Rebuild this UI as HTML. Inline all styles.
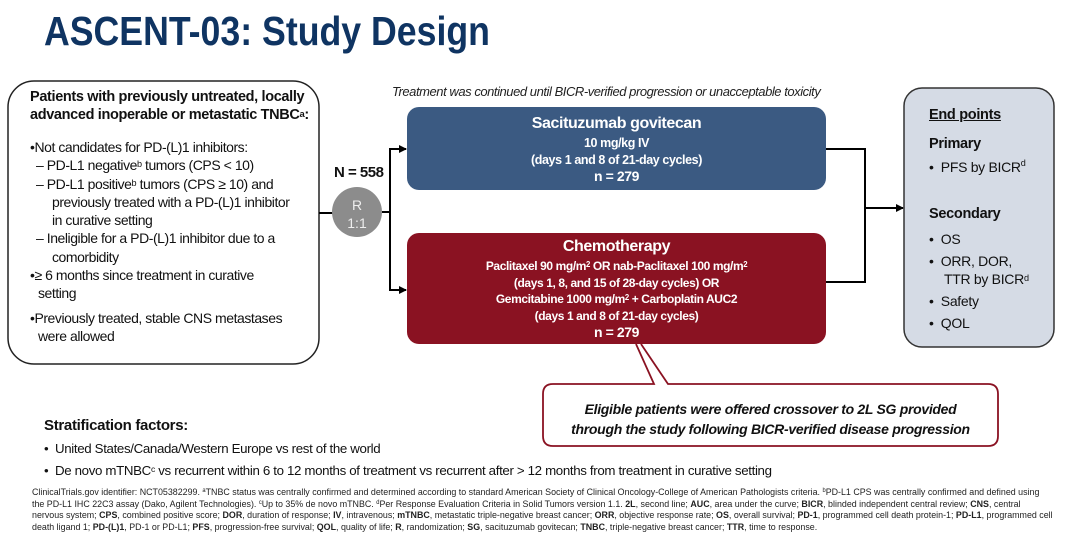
<!DOCTYPE html>
<html><head><meta charset="utf-8"><style>
*{margin:0;padding:0;box-sizing:border-box}
body{width:1080px;height:535px;background:#fff;font-family:"Liberation Sans",sans-serif;position:relative;overflow:hidden;color:#111}
.a{position:absolute;white-space:nowrap}
.sx{transform-origin:left top}
sup{font-size:65%;vertical-align:top;position:relative;top:-1px}
.c{text-align:center;color:#fff;font-weight:bold;letter-spacing:-0.4px}
</style></head><body>
<div class="a sx" style="left:44px;top:8px;font-size:41px;font-weight:bold;color:#0f3462;transform:scaleX(0.87)">ASCENT-03: Study Design</div>

<svg class="a" style="left:0;top:0" width="1080" height="535">
<defs><marker id="ar" markerWidth="8" markerHeight="8" refX="7" refY="4" orient="auto" markerUnits="userSpaceOnUse"><path d="M0,0 L8,4 L0,8z" fill="#000"/></marker></defs>
<rect x="8" y="81" width="311" height="283" rx="26" fill="#fff" stroke="#222" stroke-width="1.5"/>
<line x1="319" y1="213" x2="340" y2="213" stroke="#000" stroke-width="2"/>
<circle cx="357" cy="212" r="25" fill="#8c8c8c"/>
<line x1="382" y1="212" x2="390" y2="212" stroke="#000" stroke-width="2"/>
<polyline points="399,149 390,149 390,290 399,290" fill="none" stroke="#000" stroke-width="2"/>
<line x1="390" y1="149" x2="406" y2="149" stroke="#000" stroke-width="2" marker-end="url(#ar)"/>
<line x1="390" y1="290" x2="406" y2="290" stroke="#000" stroke-width="2" marker-end="url(#ar)"/>
<rect x="407" y="107" width="419" height="83" rx="12" fill="#3b5a82"/>
<rect x="407" y="233" width="419" height="111" rx="12" fill="#8a1222"/>
<polyline points="826,149 865,149 865,282 826,282" fill="none" stroke="#000" stroke-width="2"/>
<line x1="865" y1="208" x2="903" y2="208" stroke="#000" stroke-width="2" marker-end="url(#ar)"/>
<rect x="904" y="88" width="150" height="259" rx="18" fill="#d5dbe5" stroke="#333" stroke-width="1.5"/>
<path d="M636,344 L654,384 L553,384 Q543,384 543,394 L543,436 Q543,446 553,446 L988,446 Q998,446 998,436 L998,394 Q998,384 988,384 L668,384 L641,344" fill="#fff" stroke="#8a1222" stroke-width="1.8"/>
</svg>

<div class="a" style="left:334px;top:164px;font-size:15px;font-weight:bold;letter-spacing:-0.5px">N = 558</div>
<div class="a" style="left:332px;top:196px;width:50px;text-align:center;font-size:14px;color:#eee;line-height:18px">R<br>1:1</div>

<div class="a" style="left:392px;top:84px;font-size:13px;font-style:italic;letter-spacing:-0.45px;color:#222">Treatment was continued until BICR-verified progression or unacceptable toxicity</div>

<div class="a c" style="left:407px;top:115px;width:419px;font-size:16px">Sacituzumab govitecan</div>
<div class="a c" style="left:407px;top:135px;width:419px;font-size:12.5px;line-height:16.5px">10 mg/kg IV<br>(days 1 and 8 of 21-day cycles)</div>
<div class="a c" style="left:407px;top:168px;width:419px;font-size:14px">n = 279</div>

<div class="a c" style="left:407px;top:238px;width:419px;font-size:16px">Chemotherapy</div>
<div class="a c" style="left:407px;top:258px;width:419px;font-size:12px;line-height:16.5px">Paclitaxel 90 mg/m<sup>2</sup> OR nab-Paclitaxel 100 mg/m<sup>2</sup><br>(days 1, 8, and 15 of 28-day cycles) OR<br>Gemcitabine 1000 mg/m<sup>2</sup> + Carboplatin AUC2<br>(days 1 and 8 of 21-day cycles)</div>
<div class="a c" style="left:407px;top:324px;width:419px;font-size:14px">n = 279</div>

<div class="a" style="left:543px;top:399px;width:455px;text-align:center;font-size:14px;font-weight:bold;font-style:italic;line-height:20px;letter-spacing:-0.3px">Eligible patients were offered crossover to 2L SG provided<br>through the study following BICR-verified disease progression</div>

<div class="a" style="left:30px;top:88px;font-size:14.5px;font-weight:bold;line-height:18px;letter-spacing:-0.35px">Patients with previously untreated, locally<br>advanced inoperable or metastatic TNBC<sup>a</sup>:</div>
<div class="a" style="left:30px;top:138px;font-size:14px;line-height:18.3px;letter-spacing:-0.45px">
<div>•Not candidates for PD-(L)1 inhibitors:</div>
<div style="padding-left:6px">– PD-L1 negative<sup>b</sup> tumors (CPS &lt; 10)</div>
<div style="padding-left:6px">– PD-L1 positive<sup>b</sup> tumors (CPS ≥ 10) and</div>
<div style="padding-left:22px">previously treated with a PD-(L)1 inhibitor</div>
<div style="padding-left:22px">in curative setting</div>
<div style="padding-left:6px">– Ineligible for a PD-(L)1 inhibitor due to a</div>
<div style="padding-left:22px">comorbidity</div>
<div>•≥ 6 months since treatment in curative</div>
<div style="padding-left:8px">setting</div>
<div style="margin-top:6px">•Previously treated, stable CNS metastases</div>
<div style="padding-left:8px">were allowed</div>
</div>

<div class="a" style="left:929px;top:107px;font-size:14.5px;font-weight:bold;text-decoration:underline;letter-spacing:-0.3px">End points</div>
<div class="a" style="left:929px;top:136px;font-size:14.5px;font-weight:bold;letter-spacing:-0.3px">Primary</div>
<div class="a" style="left:929px;top:159px;font-size:14px;letter-spacing:-0.3px">•&nbsp; PFS by BICR<sup>d</sup></div>
<div class="a" style="left:929px;top:206px;font-size:14.5px;font-weight:bold;letter-spacing:-0.3px">Secondary</div>
<div class="a" style="left:929px;top:228px;font-size:14px;line-height:22px;letter-spacing:-0.3px">
<div>•&nbsp; OS</div>
<div>•&nbsp; ORR, DOR,</div>
<div style="margin-top:-4px;padding-left:15px">TTR by BICR<sup>d</sup></div>
<div>•&nbsp; Safety</div>
<div>•&nbsp; QOL</div>
</div>

<div class="a" style="left:44px;top:417px;font-size:15px;font-weight:bold;letter-spacing:-0.3px">Stratification factors:</div>
<div class="a" style="left:44px;top:438px;font-size:13.3px;line-height:21.5px;letter-spacing:-0.35px">
<div>•&nbsp; United States/Canada/Western Europe vs rest of the world</div>
<div>•&nbsp; De novo mTNBC<sup>c</sup> vs recurrent within 6 to 12 months of treatment vs recurrent after &gt; 12 months from treatment in curative setting</div>
</div>

<div class="a sx" style="left:32px;top:487px;font-size:9.3px;line-height:11.5px;color:#222;transform:scaleX(0.955);white-space:nowrap">
ClinicalTrials.gov identifier: NCT05382299. <sup>a</sup>TNBC status was centrally confirmed and determined according to standard American Society of Clinical Oncology-College of American Pathologists criteria. <sup>b</sup>PD-L1 CPS was centrally confirmed and defined using<br>the PD-L1 IHC 22C3 assay (Dako, Agilent Technologies). <sup>c</sup>Up to 35% de novo mTNBC. <sup>d</sup>Per Response Evaluation Criteria in Solid Tumors version 1.1. <b>2L</b>, second line; <b>AUC</b>, area under the curve; <b>BICR</b>, blinded independent central review; <b>CNS</b>, central<br>nervous system; <b>CPS</b>, combined positive score; <b>DOR</b>, duration of response; <b>IV</b>, intravenous; <b>mTNBC</b>, metastatic triple-negative breast cancer; <b>ORR</b>, objective response rate; <b>OS</b>, overall survival; <b>PD-1</b>, programmed cell death protein-1; <b>PD-L1</b>, programmed cell<br>death ligand 1; <b>PD-(L)1</b>, PD-1 or PD-L1; <b>PFS</b>, progression-free survival; <b>QOL</b>, quality of life; <b>R</b>, randomization; <b>SG</b>, sacituzumab govitecan; <b>TNBC</b>, triple-negative breast cancer; <b>TTR</b>, time to response.
</div>
</body></html>
